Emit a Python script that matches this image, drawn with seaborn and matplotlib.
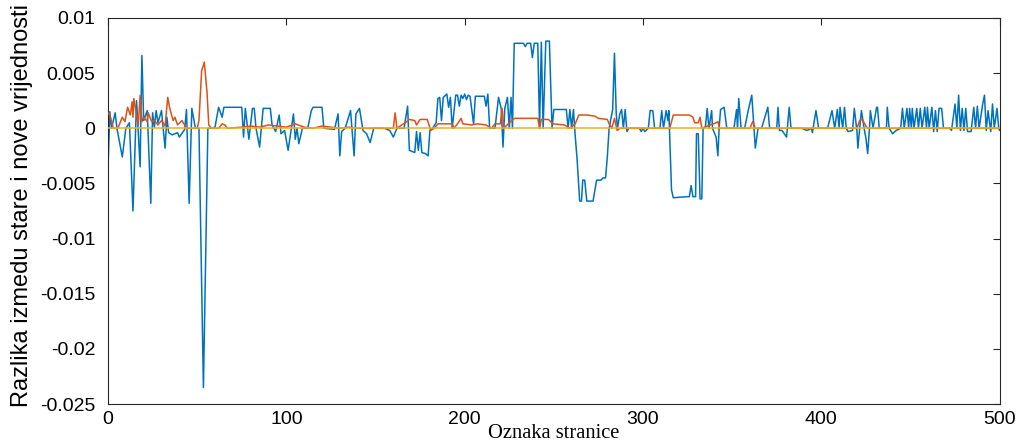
import matplotlib
matplotlib.use("Agg")
import matplotlib.pyplot as plt
import seaborn as sns

# page index vs difference (old - new), three series
blue_x = [0, 1, 2, 4, 5, 8, 10, 12, 14, 16, 18, 19, 20, 22, 24, 25, 26, 27, 28, 30,
          32, 33, 34, 36, 39, 40, 43, 44, 45.5, 47, 49, 51, 53.5, 56, 58, 60, 62, 64, 65, 75,
          76, 77, 79, 81, 82, 83, 85, 87, 91, 92, 94, 96, 97, 99, 101, 104, 105, 106, 107, 109,
          112, 114, 115, 120, 121, 127, 129, 130, 131, 133, 136, 138, 139, 141, 143, 145, 147, 149, 155, 158,
          160, 162, 166, 168, 169, 172, 173, 174, 175, 176, 178, 179.5, 180.5, 182, 184, 185, 186, 187, 188, 190,
          191, 192, 193, 195, 196, 197, 198, 199, 200, 201, 202, 203, 205, 206, 211, 212, 213, 214, 217, 219,
          220.5, 221.5, 222.5, 224, 225, 226, 226.8, 227.8, 233, 234, 235, 237, 238, 239, 241, 242, 243, 244, 245.5, 247.5,
          249, 250, 257, 258, 259, 260, 261, 262, 263, 263.7, 264.5, 265.5, 266.2, 267.3, 268.5, 272, 274, 276.5, 277.5, 279,
          280, 281, 283, 284, 285, 285.7, 287, 288, 289, 290, 291, 292, 298, 299, 300, 301, 303, 304, 305.5, 306.5,
          309.5, 310.5, 311.5, 313, 314, 314.5, 316, 317, 324.5, 326, 327, 328, 329.5, 330, 331, 332, 333, 333.7, 335, 336,
          337, 338.5, 339, 341, 342, 342.7, 343.5, 345.5, 347, 351, 352.5, 353, 353.7, 355, 357, 359, 361, 363, 364.5, 366.5,
          370, 371, 375, 375.7, 376.5, 378, 380.5, 382, 383, 389, 392, 394.5, 395, 397, 398.5, 403.5, 406, 407.5, 409, 410,
          410.5, 412, 413, 414, 415, 417.5, 418.5, 420, 420.5, 421.5, 422.5, 424, 425, 426, 427, 427.5, 429, 431, 431.5, 432.5,
          436.5, 437, 438, 440, 442, 444.5, 445.5, 446.5, 448, 449, 449.5, 450.5, 451, 452, 453.5, 454.5, 455.5, 456.5, 458, 459,
          459.5, 460.5, 462, 463, 464, 465, 466, 467.5, 468.5, 472, 473, 475, 476, 477, 478, 479, 480, 481, 482, 484,
          485.5, 486.5, 487.5, 488.5, 490.5, 491.5, 492.5, 493.5, 495, 496, 497, 498.5, 499.5, 500]
blue_y = [-0.0037, 0.0015, 0.0, 0.0014, 0.0, -0.0026, 0.0, 0.0005, -0.0075, 0.0025, -0.0035, 0.0066, 0.0007, 0.0016, -0.0068, 0.0014, 0.0001, 0.0016, 0.0005, 0.0016,
          -0.0018, 0.0010, -0.0004, -0.0006, -0.0004, -0.0008, -0.0001, 0.0017, -0.0068, 0.0018, 0.0, 0.0, -0.0235, 0.0, 0.0, 0.0001, 0.0019, 0.001, 0.0019, 0.0019,
          -0.0008, 0.0018, -0.001, 0.0018, 0.0018, 0.0, -0.0017, 0.0018, 0.0018, 0.0003, -0.0003, 0.0012, -0.0005, -0.0002, -0.002, 0.0013, -0.001, 0.0, -0.0014, 0.0,
          0.0, 0.0016, 0.0019, 0.0019, 0.0, -0.0001, 0.0013, -0.0025, -0.0003, 0.0, 0.0016, -0.0025, 0.0013, 0.0018, -0.0002, -0.0005, -0.0013, 0.0, 0.0, -0.0002,
          -0.0008, 0.0, 0.0, 0.002, -0.002, -0.0022, -0.0003, -0.002, -0.0004, -0.0022, -0.0023, -0.0025, -0.0002, 0.0, 0.0005, 0.0027, 0.0028, 0.0007, 0.0028, 0.0031,
          0.0019, 0.0028, 0.0, 0.003, 0.003, 0.002, 0.003, 0.0027, 0.0031, 0.0026, 0.003, 0.0029, 0.0004, 0.0029, 0.0029, 0.002, 0.0031, 0.0, 0.0, 0.0028,
          0.0018, -0.0017, 0.0018, 0.0028, 0.0, 0.0028, 0.0, 0.0077, 0.0077, 0.0074, 0.0077, 0.0077, 0.0064, 0.0077, 0.0077, 0.0, 0.0078, 0.0, 0.0079, 0.0079,
          0.0, 0.0017, 0.0017, 0.0, 0.0017, 0.0, 0.0017, -0.0007, -0.0027, -0.0045, -0.0066, -0.0066, -0.0047, -0.0047, -0.0066, -0.0066, -0.0047, -0.0047, -0.0045, -0.0045,
          -0.0026, 0.0, 0.0017, 0.0068, 0.0013, 0.0, 0.0013, 0.0017, 0.0, 0.0017, -0.0003, 0.0, 0.0, -0.0003, 0.0, -0.0003, 0.0, 0.0016, 0.0016, 0.0,
          0.0, 0.0016, 0.0, 0.0016, 0.0007, 0.0016, -0.0056, -0.0063, -0.0062, -0.0062, -0.0052, -0.0062, -0.0062, -0.0005, -0.0005, -0.0064, -0.0064, 0.0, 0.0001, 0.0018,
          0.0, 0.0016, 0.0, -0.0008, -0.0025, 0.0, 0.0017, 0.0019, 0.0, 0.0, 0.0017, 0.0, 0.0027, 0.0, 0.0, 0.0016, 0.003, -0.0018, 0.0, 0.0,
          0.0019, 0.0, 0.0, 0.0019, -0.0002, -0.0002, -0.0008, 0.0019, 0.0, 0.0, -0.0002, 0.0, -0.0004, 0.0016, 0.0, 0.0, 0.0016, 0.0, 0.0017, 0.0,
          0.0019, 0.0, 0.0019, 0.0, -0.0003, -0.0002, 0.0018, -0.0003, -0.0018, 0.0, 0.0016, 0.0, -0.0009, -0.0023, 0.0, 0.0016, 0.0, 0.0019, 0.0019, 0.0,
          0.0, 0.0019, 0.0, -0.0005, -0.0002, 0.0, 0.0018, 0.0, 0.0018, 0.0, 0.0018, 0.0, 0.0018, 0.0, 0.0018, 0.0, 0.0018, 0.0, 0.0019, 0.0,
          0.0019, 0.0, 0.0019, -0.0003, 0.0016, -0.0003, 0.0018, 0.0018, 0.0, 0.0, -0.0002, 0.0022, 0.0, 0.003, -0.0002, 0.0018, -0.0002, 0.0018, -0.0003, -0.0003,
          0.0019, 0.0, 0.002, 0.0, 0.0022, 0.003, -0.0002, 0.0016, -0.0003, 0.0022, 0.0, 0.0018, 0.0, -0.0002]

orange_x = [0, 1, 3, 5.5, 8, 9.5, 11, 12.5, 13.5, 14, 14.5, 16, 17, 18, 19, 20, 22, 22.5, 24.5, 26,
            28, 30, 32, 33.5, 34.5, 36.5, 37.5, 39, 41.5, 44, 50, 51, 52.5, 54, 55.5, 56.5, 58, 62, 64, 65.5,
            67, 75, 80, 85, 90, 95, 100, 105, 110, 115, 120, 125, 130, 135, 140, 160, 161, 162, 167.5, 169,
            172, 173, 175, 179, 181, 183, 185, 193, 194, 196, 198, 199, 204, 207, 212, 215, 217, 220, 221, 222,
            225, 228, 241, 242, 243, 247, 249.5, 256, 259, 262, 264, 268.5, 273, 275, 280, 281, 282.5, 284, 285.5, 287,
            315, 317, 326, 328, 329, 331, 332, 333, 341, 342, 343, 360, 361.5, 363, 420, 421.5, 423, 425, 426, 500]
orange_y = [0.0014, 0.0012, 0.0, 0.0, 0.001, 0.0006, 0.0019, 0.0012, 0.0024, 0.001, 0.0027, 0.0012, 0.0003, 0.003, 0.0006, 0.001, 0.0006, 0.0014, 0.0006, 0.0007,
            0.0003, 0.0007, 0.0002, 0.0028, 0.0019, 0.0007, 0.001, 0.0003, 0.0007, 0.0, 0.0, 0.0007, 0.0052, 0.006, 0.0033, 0.0003, 0.0, 0.0, 0.0004, 0.0003,
            0.0, 0.0001, 0.0002, 0.0001, 0.0003, 0.0002, 0.0001, 0.0004, 0.0001, 0.0, 0.0002, 0.0001, 0.0, 0.0001, 0.0, 0.0, 0.0014, 0.0, 0.0006, 0.0008,
            0.0007, 0.0003, 0.0008, 0.0008, -0.0002, 0.0, 0.0004, 0.0004, 0.0, 0.0004, 0.0009, 0.0004, 0.0003, 0.0004, 0.0003, 0.0, 0.0004, 0.0004, 0.0018, 0.0,
            0.0005, 0.0009, 0.0009, 0.0, 0.0008, 0.0008, 0.0004, 0.0003, 0.0, 0.0004, 0.0012, 0.0012, 0.0011, 0.0009, 0.0008, 0.0004, 0.0, 0.0009, -0.0002, 0.0,
            0.0, 0.0012, 0.0012, 0.001, 0.0005, 0.0005, 0.001, 0.0, 0.0005, 0.0006, 0.0, 0.0, 0.0006, 0.0, 0.0, 0.0007, 0.0008, 0.0002, 0.0, 0.0]

yellow_x = [0, 500]
yellow_y = [0.0, 0.0]

xticks = [0, 100, 200, 300, 400, 500]
yticks = [0.01, 0.005, 0, -0.005, -0.01, -0.015, -0.02, -0.025]
ytick_labels = ["0.01", "0.005", "0", "-0.005", "-0.01", "-0.015", "-0.02", "-0.025"]

sns.set_style("white")
plt.rcParams["font.family"] = ["Liberation Sans", "DejaVu Sans"]

fig = plt.figure(figsize=(10.19, 4.48), dpi=100)
ax = fig.add_axes([0.106, 0.098, 0.875, 0.862])

sns.lineplot(x=blue_x, y=blue_y, color="#0072BD", linewidth=1.1, estimator=None, ax=ax, zorder=2)
sns.lineplot(x=orange_x, y=orange_y, color="#D95319", linewidth=1.1, estimator=None, ax=ax, zorder=3)
sns.lineplot(x=yellow_x, y=yellow_y, color="#EDB120", linewidth=1.1, estimator=None, ax=ax, zorder=4)

ax.set_xlim(0, 500)
ax.set_ylim(-0.025, 0.01)
ax.set_xticks(xticks)
ax.set_xticklabels([str(t) for t in xticks])
ax.set_yticks(yticks)
ax.set_yticklabels(ytick_labels)

for s in ax.spines.values():
    s.set_color("#262626")
    s.set_linewidth(0.8)
ax.tick_params(direction="in", length=5, width=0.8, color="#262626",
               top=True, right=True, labelsize=14, labelcolor="#000000")
ax.tick_params(axis="x", pad=5)
ax.tick_params(axis="y", pad=9)

ax.set_ylabel("Razlika izmedu stare i nove vrijednosti", fontsize=17, color="#000000")
ax.yaxis.set_label_coords(-0.084, 0.514)
ax.set_xlabel("Oznaka stranice", fontsize=14.8, family=["Liberation Serif", "DejaVu Serif"], color="#000000")
ax.xaxis.set_label_coords(0.5, -0.052)

plt.savefig("out.png", dpi=100)
